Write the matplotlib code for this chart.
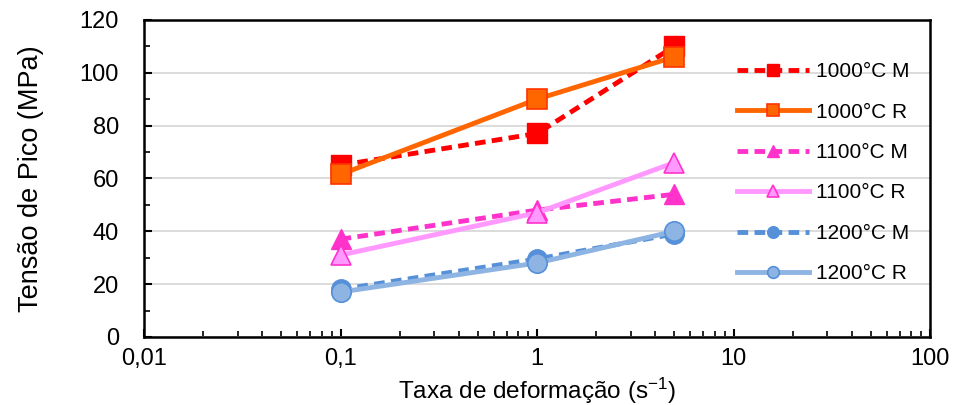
import matplotlib
matplotlib.use("Agg")
import matplotlib.pyplot as plt
from matplotlib.ticker import FixedLocator, MultipleLocator, FuncFormatter, LogLocator

plt.rcParams['font.family'] = ['Liberation Sans', 'DejaVu Sans']
plt.rcParams['mathtext.fontset'] = 'custom'
plt.rcParams['mathtext.rm'] = 'Liberation Sans'
plt.rcParams['mathtext.it'] = 'Liberation Sans'

rates = [0.1, 1, 5]
s1000M = [65, 77, 110]
s1000R = [61.5, 90, 106]
s1100M = [37, 48, 54]
s1100R = [31, 47, 66]
s1200M = [18, 29.5, 39]
s1200R = [17, 28, 40]
labels = ["1000°C M", "1000°C R", "1100°C M", "1100°C R", "1200°C M", "1200°C R"]
xticks = [0.01, 0.1, 1, 10, 100]
xticklabels = ["0,01", "0,1", "1", "10", "100"]

fig = plt.figure(figsize=(9.54, 4.05), dpi=100)
ax = fig.add_axes([0.151, 0.168, 0.824, 0.783])

ax.plot(rates, s1000M, ls=(0, (2.2, 1.3)), color='#FF0000', lw=3.5, marker='s', ms=14,
        mfc='#FF0000', mec='#FF0000', label=labels[0], zorder=3)
ax.plot(rates, s1000R, ls='-', color='#FF6600', lw=3.5, marker='s', ms=14,
        mfc='#FF6600', mec='#FF3300', mew=1.2, label=labels[1], zorder=4)
ax.plot(rates, s1100M, ls=(0, (2.2, 1.3)), color='#FF33CC', lw=3.5, marker='^', ms=15,
        mfc='#FF33CC', mec='#FF33CC', label=labels[2], zorder=3)
ax.plot(rates, s1100R, ls='-', color='#FF99FF', lw=3.5, marker='^', ms=15,
        mfc='#FF99FF', mec='#FF33CC', mew=1.2, label=labels[3], zorder=4)
ax.plot(rates, s1200M, ls=(0, (2.2, 1.3)), color='#5590D9', lw=3.5, marker='o', ms=14,
        mfc='#5590D9', mec='#5590D9', label=labels[4], zorder=3)
ax.plot(rates, s1200R, ls='-', color='#8EB4E3', lw=3.5, marker='o', ms=14,
        mfc='#8EB4E3', mec='#5590D9', mew=1.2, label=labels[5], zorder=4)

ax.set_xscale('log')
ax.set_xlim(0.01, 100)
ax.set_ylim(0, 120)
ax.xaxis.set_major_locator(FixedLocator(xticks))
ax.set_xticklabels(xticklabels)
ax.xaxis.set_minor_locator(LogLocator(base=10, subs=range(2, 10)))
ax.xaxis.set_minor_formatter(FuncFormatter(lambda v, p: ""))
ax.yaxis.set_major_locator(MultipleLocator(20))
ax.yaxis.set_minor_locator(MultipleLocator(10))

ax.grid(True, axis='y', which='major', color='#D9D9D9', lw=1.3, zorder=0)
ax.set_axisbelow(True)
for sp in ax.spines.values():
    sp.set_linewidth(1.8)
    sp.set_color('black')

ax.tick_params(axis='both', which='major', direction='in', length=6, width=1.5, labelsize=17)
ax.tick_params(axis='both', which='minor', direction='in', length=4, width=1.2)
ax.tick_params(axis='x', which='major', pad=8)
ax.tick_params(axis='y', which='major', pad=18)

ax.set_xlabel("Taxa de deformação (s$^{\\mathrm{-1}}$)", fontsize=17.5, va='top')
ax.xaxis.set_label_coords(0.5, -0.122)
ax.set_ylabel("Tensão de Pico (MPa)", fontsize=19.5, labelpad=26)

leg = ax.legend(loc='upper left', bbox_to_anchor=(0.744, 0.893), frameon=False, fontsize=15,
                handlelength=3.45, labelspacing=1.03, handletextpad=0.33, markerscale=0.6,
                borderaxespad=0)

fig.savefig("out.png", dpi=100)
